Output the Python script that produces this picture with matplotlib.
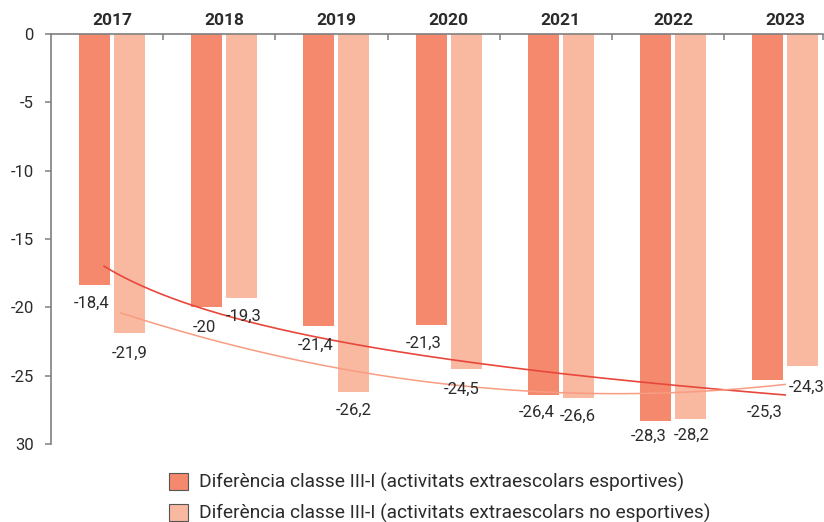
import numpy as np
import matplotlib.pyplot as plt
from matplotlib.patches import Patch

plt.rcParams['font.family'] = ['Roboto', 'DejaVu Sans']

# Data
years = ['2017', '2018', '2019', '2020', '2021', '2022', '2023']
esportives = [-18.4, -20, -21.4, -21.3, -26.4, -28.3, -25.3]
no_esportives = [-21.9, -19.3, -26.2, -24.5, -26.6, -28.2, -24.3]
y_ticks = [-30, -25, -20, -15, -10, -5, 0]
y_tick_labels = ['30', '-25', '-20', '-15', '-10', '-5', '0']
series_names = ['Diferència classe III-I (activitats extraescolars esportives)',
                'Diferència classe III-I (activitats extraescolars no esportives)']

c_dark = '#F4896E'
c_light = '#F9B8A0'
c_line_dark = '#E8473B'
c_line_light = '#F89C82'
txt = '#2b2b2b'
axis_col = '#7f7f7f'

fig = plt.figure(figsize=(8.24, 5.22), dpi=100)
ax = fig.add_axes([51 / 824, 1 - 444 / 522, (823 - 51) / 824, (444 - 34) / 522])

x = np.arange(len(years))
w = 0.276
off = 0.156
ax.bar(x - off, esportives, w, color=c_dark, zorder=2)
ax.bar(x + off, no_esportives, w, color=c_light, zorder=2)

# Trendlines: logarithmic for the first series, 2nd-order polynomial for the second
b, a = np.polyfit(np.log(x + 1), esportives, 1)
xr = np.linspace(-0.07, 6.0, 200)
ax.plot(xr, a + b * np.log(xr + 1), color=c_line_dark, lw=1.2, zorder=3)
p = np.polyfit(x, no_esportives, 2)
xl = np.linspace(0.08, 6.0, 200)
ax.plot(xl, np.polyval(p, xl), color=c_line_light, lw=1.1, zorder=3)

# Value labels (pixel nudges for the crowded ones)
def fmt(v):
    return ('%g' % v).replace('.', ',')

nudge_dark = [(-3, -10), (-2, -13), (-3, -11), (-7, -11), (-7, -10), (-7, -8), (-3, -25)]
nudge_light = [(0, -13), (2, -11), (0, -11), (-4, -13), (-1, -11), (1, -8), (4, -14)]
for i in x:
    for vals, nudges, dx in ((esportives, nudge_dark, -off), (no_esportives, nudge_light, off)):
        v = vals[i]
        nx, ny = nudges[i]
        ax.annotate(fmt(v), (i + dx, v), xytext=(nx * 0.72, ny * 0.72),
                    textcoords='offset points', ha='center', va='top',
                    fontsize=12, color=txt, zorder=4, annotation_clip=False)

for s in ('right', 'bottom'):
    ax.spines[s].set_visible(False)
for s in ('left', 'top'):
    ax.spines[s].set_color(axis_col)
    ax.spines[s].set_linewidth(1.2)

ax.set_yticks(y_ticks)
ax.set_yticklabels(y_tick_labels)
ax.tick_params(axis='y', direction='out', length=4.5, width=1.1, color=axis_col,
               pad=8, labelsize=12, labelcolor=txt)

xmin, xmax = -(112 - 51) / 112.2, (823 - 112) / 112.2
ax.xaxis.tick_top()
ax.set_xticks(x)
ax.set_xticklabels(years, fontweight='bold')
ax.set_xticks(list(np.arange(0, 6) + 0.457) + [xmax], minor=True)
ax.tick_params(axis='x', which='major', length=0, pad=4, labelsize=12.5, labelcolor=txt)
ax.tick_params(axis='x', which='minor', direction='in', length=4.5, width=1.1, color=axis_col)

ax.set_ylim(-30, 0)
ax.set_xlim(xmin, xmax)

handles = [Patch(facecolor=c_dark, edgecolor='#555555', lw=0.8),
           Patch(facecolor=c_light, edgecolor='#555555', lw=0.8)]
fig.legend(handles, series_names, loc='upper left', bbox_to_anchor=(169 / 824, 1 - 473 / 522),
           frameon=False, fontsize=13.8, handlelength=1.0, handleheight=1.0,
           handletextpad=0.55, labelspacing=0.58, borderpad=0, borderaxespad=0,
           labelcolor=txt)

fig.savefig('out.png', dpi=100)
